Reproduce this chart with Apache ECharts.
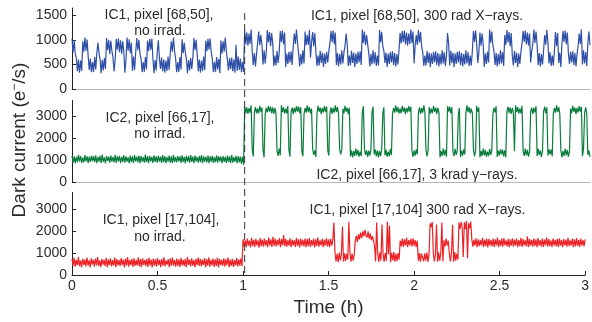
<!DOCTYPE html>
<html>
<head>
<meta charset="utf-8">
<script src="https://cdn.jsdelivr.net/npm/echarts@6/dist/echarts.min.js"></script>
<style>
html,body{margin:0;padding:0;background:#fff;}
#chart{width:592px;height:322px;}
</style>
</head>
<body>
<div id="chart"></div>
<script>
// Sampling: one sample every 1/160 h (0 .. 3 h)
const SAMPLE_STEP_H = 1 / 160;
const xTicks = [0, 0.5, 1, 1.5, 2, 2.5, 3];
const xTickLabels = ['0', '0.5', '1', '1.5', '2', '2.5', '3'];
const yTicks1 = [0, 500, 1000, 1500];
const yTicks2 = [0, 1000, 2000, 3000];
const yTicks3 = [0, 1000, 2000, 3000];
const irradiationTime = 1;

// Panel 1: IC1, pixel [68,50] (blue)
const ic1Pixel6850 = [
1030,750,990,720,
640,360,600,330,580,370,
970,760,1050,780,1010,
660,390,620,340,550,350,650,400,
730,940,740,
610,320,590,380,630,410,
1040,790,1000,710,980,770,
640,360,600,
1020,800,1030,750,
990,720,970,760,
330,580,
1050,780,1010,730,940,
370,660,390,
740,1040,790,1000,710,
620,340,550,350,650,400,
980,770,1020,800,1030,
610,320,590,380,
750,990,
630,410,640,360,600,330,580,370,660,390,
720,970,760,1050,780,
620,340,550,350,650,400,
1010,730,940,740,
610,320,590,380,630,410,640,
1040,790,1000,710,
360,600,330,580,370,660,390,
980,770,1020,800,1030,750,
620,340,550,350,650,400,610,320,
990,720,970,760,1050,780,
590,380,630,410,640,360,600,330,900,370,660,390,620,340,550,350,
// after irradiation
1190,910,1150,880,1130,920,1210,
770,490,730,460,710,
940,1170,890,1100,900,
500,790,520,750,
1200,950,1160,870,1140,930,
470,680,480,780,530,740,
1180,960,1190,910,1150,
450,720,510,760,540,770,490,
880,1130,920,1210,940,
730,460,710,500,790,520,
1170,890,1100,900,1200,640,950,1160,870,1140,
750,470,680,480,780,530,740,450,720,510,760,540,770,
930,1180,960,1190,910,1150,
490,730,460,710,500,790,520,750,
880,1130,920,
470,680,480,780,530,740,450,720,510,760,540,770,490,
1210,940,1170,890,1100,900,
730,460,710,500,790,520,750,470,680,480,
1200,950,1160,870,
780,530,740,450,720,510,760,540,770,490,730,460,710,500,790,
1140,930,1180,960,1190,910,1150,880,1130,920,1210,940,1170,
520,
890,1100,900,1200,950,1160,870,
750,470,680,480,780,530,740,450,720,510,760,540,770,490,730,460,710,500,790,520,750,470,680,
1140,930,
480,780,530,740,450,720,510,760,540,770,490,730,460,710,500,790,520,750,470,680,480,780,
1180,960,1190,910,
530,740,
1150,880,1130,920,
450,720,510,760,540,
1210,940,1170,890,
770,490,730,460,710,500,790,520,750,470,
1100,900,1200,950,1160,870,1140,
680,480,780,530,740,450,720,510,760,
930,1180,960,1190,910,1150,880,1130,
540,770,
920,1210,940,1170,890,
490,730,460,710,500,790,
1100,900,1200,950,
520,750,470,680,480,780,
1160,870,1140,
530,740,450,
930,1180,960,1190,910,1150,
720,510,760,540,770,490,730,460,710,
880,1130,920,1210,
500,790,520,750,470,
940,1170,890
];

// Panel 2: IC2, pixel [66,17] (green)
const ic2Pixel6617 = [
1200,880,1170,850,1140,900,1230,920,1180,870,1110,890,1220,940,1160,860,1150,910,1190,950,
1170,900,1210,860,1130,930,1190,870,1240,910,1120,850,1180,960,1150,880,1200,920,1140,890,
1230,870,1160,940,1190,860,1140,910,1210,880,1170,930,1120,850,1200,900,1160,870,1220,940,
1150,890,1200,860,1180,920,1130,880,1240,900,1170,850,1190,940,1140,870,1210,910,1160,880,
1190,930,1150,870,1220,900,1170,860,1140,920,1200,880,1160,850,1230,910,1130,890,1180,940,
1160,870,1210,900,1140,850,1190,930,1170,880,1220,910,1150,860,1200,940,1130,880,1180,900,
1220,860,1170,920,1140,890,1200,850,1160,930,1190,870,1130,900,1210,880,1170,940,1150,860,
1180,910,1140,870,1200,900,1160,850,1220,880,1130,920,1190,860,1170,890,1150,830,1140,780,
// after irradiation
3420,3130,3390,3090,3360,3150,3480,
1470,1160,
3170,3400,3110,3330,3120,3460,3190,3380,
1440,1120,
3080,3370,3160,3440,3200,3420,3130,3390,3090,3360,3150,
1400,1190,1520,1210,
3480,3170,3400,3110,3330,3120,3460,
1460,1150,
3190,3380,3080,3370,3160,3440,3200,3420,3130,3390,
1380,1170,
3090,3360,3150,3480,3170,3400,3110,3330,
1500,1230,1430,1140,
3120,3460,3190,3380,3080,3370,3160,3440,3200,3420,
1420,1200,
3130,3390,3090,3360,3150,3480,3170,3400,3110,
1480,1250,1470,
3330,3120,3460,3190,3380,3080,3370,
1160,1440,1120,1400,1190,1520,1210,1460,1150,1380,1170,
3160,3440,
1500,1230,1430,1140,1420,1200,1480,
3200,3420,
1250,1470,1160,1440,1120,1400,1190,1520,
3130,3390,
1210,1460,1150,1380,1170,1500,1230,
3090,3360,3150,3480,3170,3400,3110,3330,3120,3460,3190,3380,3080,3370,3160,3440,3200,3420,
1430,1140,1420,1200,1480,1250,
3130,3390,3090,3360,3150,3480,3170,
1470,1160,1440,
3400,3110,3330,3120,3460,3190,3380,3080,3370,3160,
1120,1400,1190,1520,1210,1460,1150,
3440,3200,3420,3130,3390,
1380,1170,1500,1230,1430,
3090,3360,
1140,1420,1200,1480,1250,
3150,3480,3170,3400,3110,3330,3120,
1470,1160,1440,
3460,3190,3380,
1120,1400,1190,1520,1210,1460,1150,1380,1170,1500,1230,1430,
3080,3370,3160,3440,
1140,1420,1200,1480,1250,1470,1160,1440,1120,
3200,3420,3130,3390,3090,3360,3150,1400,3480,3170,3400,3110,3330,3120,3460,
1400,1190,1520,1210,1460,1150,1380,
3190,3380,3080,3370,3160,3440,
1170,1500,1230,1430,1140,1420,
3200,3420,3130,3390,
1200,1480,1250,1470,1160,
3090,3360,3150,3480,3170,3400,3110,
1440,1120,1400,1190,1520,1210,1460,1150,1380,
3330,3120,3460,3190,3380,3080,3370,3160,3440,3200,3420,
1170,1500,
3130,3390,3090,
1230,1430,1140
];

// Panel 3: IC1, pixel [17,104] (red)
const ic1Pixel17104 = [
720,420,780,380,690,450,810,400,660,350,740,460,700,390,790,430,680,340,760,470,
700,380,750,440,820,410,670,360,730,470,690,400,780,350,710,450,760,390,680,430,
790,360,720,440,680,400,770,460,700,340,750,420,810,380,690,450,730,370,760,410,
680,430,800,390,720,350,760,460,690,410,740,370,780,440,700,340,750,420,710,380,
770,450,690,360,740,420,800,390,660,470,720,350,760,410,790,430,680,380,750,400,
710,370,780,440,690,400,740,350,810,460,700,390,760,430,680,360,730,450,790,410,
740,390,700,460,770,350,720,420,800,380,690,440,750,370,710,410,780,340,730,450,
690,420,760,380,720,450,790,360,700,410,740,370,680,440,770,390,710,430,750,400,
// after irradiation
1620,1300,1580,1270,1650,1340,1560,1250,1690,1320,1600,1280,1640,1350,1570,1240,1680,1310,1610,1290,
1660,1330,1590,1260,1700,1350,1620,1280,1740,1320,1650,1300,1600,1360,1680,1270,1630,1340,1810,1310,
1640,1290,1590,1330,1670,1260,1610,1350,1580,1280,1690,1320,1620,1250,1660,1340,1600,1300,1650,1270,
1630,1310,1680,1280,1590,1340,1660,1250,1620,1320,1700,1290,1570,1350,1640,1270,1610,1330,1670,
1300,1620,1260,1650,1340,1590,
2380,
1000,620,960,580,1020,660,940,
2200,
600,990,640,950,700,
2420,
1010,610,970,650,900,
1550,1780,1500,1850,1620,1930,1680,1990,1750,2050,1800,1700,1980,1650,1880,1580,1760,
1580,1330,
620,2380,980,590,1030,650,2300,960,600,1000,640,2420,930,2250,580,1010,660,1040,610,970,630,990,
700,1560,
1310,1650,1280,1620,1340,1690,1270,1600,1350,1640,1300,1670,1320,
1590,1280,1560,
640,1000,600,970,1040,620,980,660,1020,590,940,
2350,2180,2410,
1000,620,970,2300,600,1030,650,990,2380,610,
1580,1300,1650,1340,1560,
980,620,1010,2280,600,1040,650,960,700,
2380,2100,2420,2150,820,2400,2080,2450,760,2350,2120,2430,
1630,1290,1600,1340,1670,1260,1620,1310,1580,1350,1690,1280,1610,1320,1650,1250,1640,1330,1590,1300,
1660,1280,1620,1340,1700,1270,1600,1310,1650,1290,1680,1350,1570,1300,1640,1260,1620,1330,1670,1290,
1610,1340,1650,1270,1590,1320,1690,1280,1630,1350,1580,1300,1760,1270,1640,1330,1600,1290,1660,1320,
1620,1260,1680,1340,1590,1300,1650,1280,1610,1350,1700,1290,1630,1320,1580,1270,1660,1340,1600,1300,
1640,1280,1670,1330,1590,1260,1630,1350,1610,1290,1690,1310,1570,1340,1650,1270,1620,1300,1680,1320,
1600,1280,1650,1340,1590,1300,1620
];

const FONT = "'Liberation Sans', Arial, sans-serif";
const TXT = '#2b2b2b';

function toXY(arr) { return arr.map((v, i) => [i * SAMPLE_STEP_H, v]); }

const grids = [
  { left: 72, width: 518, top: 8, height: 81 },
  { left: 72, width: 518, top: 100.5, height: 81.5 },
  { left: 72, width: 518, top: 192.5, height: 82.5 }
];

function xAxisFor(idx, showLabels) {
  return {
    type: 'value', gridIndex: idx, min: 0, max: 3, interval: 0.5,
    axisLine: { show: true, lineStyle: { color: showLabels ? '#222' : '#b8b8b8', width: 1 } },
    axisTick: showLabels ? { show: true, inside: true, length: 4, lineStyle: { color: '#222' }, customValues: xTicks } : { show: false },
    axisLabel: showLabels ? {
      show: true, fontSize: 14, color: TXT, fontFamily: FONT, margin: 4,
      customValues: xTicks,
      formatter: v => { const k = xTicks.indexOf(v); return k >= 0 ? xTickLabels[k] : String(v); }
    } : { show: false },
    splitLine: { show: false },
    name: showLabels ? 'Time (h)' : '',
    nameLocation: 'middle', nameGap: 23,
    nameTextStyle: { fontSize: 19, color: TXT, fontFamily: FONT }
  };
}
function yAxisFor(idx, max, ticks) {
  return {
    type: 'value', gridIndex: idx, min: 0, max: max,
    axisLine: { show: true, lineStyle: { color: '#222', width: 1 } },
    axisTick: { show: true, inside: true, length: 4, lineStyle: { color: '#222' }, customValues: ticks },
    axisLabel: { show: true, fontSize: 14, color: TXT, fontFamily: FONT, margin: 5, customValues: ticks,
      formatter: v => String(Math.round(v)) },
    splitLine: { show: false }
  };
}

const chart = echarts.init(document.getElementById('chart'), null, { renderer: 'canvas' });

function lineSeries(idx, data, color) {
  return {
    type: 'line', xAxisIndex: idx, yAxisIndex: idx, data: toXY(data),
    showSymbol: false, symbol: 'none', sampling: null, animation: false,
    lineStyle: { color: color, width: 1.2 }, z: 2
  };
}

function txt(x, y, s) {
  return { type: 'text', x: x, y: y, z: 10,
    style: { text: s, font: '14px ' + FONT, fill: TXT, align: 'center', verticalAlign: 'middle', textAlign: 'center', textVerticalAlign: 'middle' } };
}

chart.setOption({
  backgroundColor: '#fff',
  animation: false,
  grid: grids,
  xAxis: [xAxisFor(0, false), xAxisFor(1, false), xAxisFor(2, true)],
  yAxis: [yAxisFor(0, 1650, yTicks1), yAxisFor(1, 3700, yTicks2), yAxisFor(2, 3750, yTicks3)],
  series: [
    lineSeries(0, ic1Pixel6850, '#2f50a6'),
    lineSeries(1, ic2Pixel6617, '#0a7d3c'),
    lineSeries(2, ic1Pixel17104, '#ec2227')
  ]
});

// vertical dashed line at the irradiation time, and texts
const xPix = chart.convertToPixel({ xAxisIndex: 0 }, irradiationTime);
const yBottom = chart.convertToPixel({ yAxisIndex: 2 }, 0);
chart.setOption({
  graphic: [
    { type: 'line', z: 20, shape: { x1: xPix, y1: 13, x2: xPix, y2: yBottom },
      style: { stroke: '#333', lineWidth: 1, lineDash: [7, 4] } },
    txt(159, 15, 'IC1, pixel [68,50],'),
    txt(160, 31, 'no irrad.'),
    txt(417, 16, 'IC1, pixel [68,50], 300 rad X\u2212rays.'),
    txt(160, 118, 'IC2, pixel [66,17],'),
    txt(160, 134, 'no irrad.'),
    txt(417, 175, 'IC2, pixel [66,17], 3 krad \u03b3\u2212rays.'),
    txt(161, 220, 'IC1, pixel [17,104],'),
    txt(160, 237, 'no irrad.'),
    txt(417.5, 210, 'IC1, pixel [17,104] 300 rad X\u2212rays.'),
    { type: 'text', x: 20, y: 140, rotation: Math.PI / 2, z: 10,
      style: {
        text: '{a|Dark current (e}{b|\u2212}{a|/s)}',
        align: 'center', verticalAlign: 'middle', textAlign: 'center', textVerticalAlign: 'middle',
        fill: TXT, font: '19px ' + FONT,
        rich: {
          a: { fontSize: 19, fontFamily: FONT, fill: TXT, color: TXT, lineHeight: 22 },
          b: { fontSize: 12, fontFamily: FONT, fill: TXT, color: TXT, verticalAlign: 'top', lineHeight: 12 }
        }
      } }
  ]
});
</script>
</body>
</html>
